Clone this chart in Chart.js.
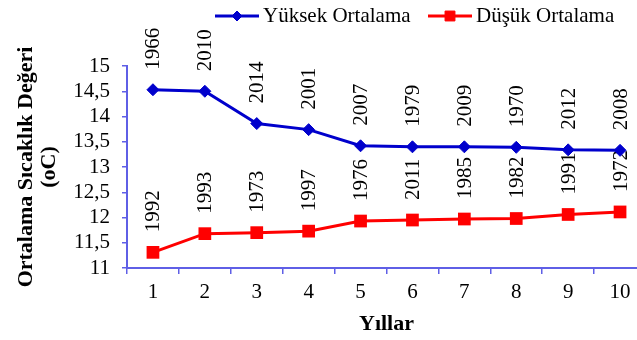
<!DOCTYPE html>
<html>
<head>
<meta charset="utf-8">
<script src="https://cdn.jsdelivr.net/npm/chart.js@4.4.1/dist/chart.umd.min.js"></script>
<style>
  body { margin: 0; overflow: hidden; background: #fff; }
</style>
</head>
<body>
<canvas id="myChart" width="660" height="340"></canvas>
<script>
// rank (1..10) on the x axis
const ranks = ['1', '2', '3', '4', '5', '6', '7', '8', '9', '10'];

// mean temperatures, oC
const highValues = [14.53, 14.50, 13.86, 13.74, 13.42, 13.40, 13.40, 13.39, 13.34, 13.33];
const lowValues = [11.31, 11.68, 11.70, 11.73, 11.93, 11.95, 11.97, 11.98, 12.06, 12.11];

// year written above each point
const highYears = ['1966', '2010', '2014', '2001', '2007', '1979', '2009', '1970', '2012', '2008'];
const lowYears = ['1992', '1993', '1973', '1997', '1976', '2011', '1985', '1982', '1991', '1972'];

const serif = '"Liberation Serif", "Times New Roman", serif';
const axisColor = '#5f5fe6';
const blue = '#0000cc';
const red = '#ff0000';

// rotated year labels over every point, drawn under the lines
const yearLabels = {
	id: 'yearLabels',
	beforeDatasetsDraw(chart) {
		const ctx = chart.ctx;
		const yearSets = [highYears, lowYears];
		ctx.save();
		ctx.font = '21px ' + serif;
		ctx.fillStyle = '#000';
		ctx.textAlign = 'left';
		ctx.textBaseline = 'middle';
		yearSets.forEach((years, i) => {
			chart.getDatasetMeta(i).data.forEach((pt, j) => {
				ctx.save();
				ctx.translate(pt.x + 1, pt.y - 20);
				ctx.rotate(-Math.PI / 2);
				ctx.fillText(years[j], 0, 0);
				ctx.restore();
			});
		});
		ctx.restore();
	}
};

// legend with a line through the marker, like the series themselves
const lineLegend = {
	id: 'lineLegend',
	afterDraw(chart, args, opts) {
		const ctx = chart.ctx;
		ctx.save();
		ctx.font = '21px ' + serif;
		ctx.textBaseline = 'middle';
		ctx.textAlign = 'left';
		chart.data.datasets.forEach((ds, i) => {
			const x = opts.starts[i];
			const y = opts.y;
			ctx.strokeStyle = ds.borderColor;
			ctx.fillStyle = ds.borderColor;
			ctx.lineWidth = 3;
			ctx.beginPath();
			ctx.moveTo(x, y);
			ctx.lineTo(x + 44, y);
			ctx.stroke();
			ctx.lineWidth = 1;
			Chart.helpers.drawPoint(ctx, {
				pointStyle: ds.pointStyle,
				radius: opts.radius[i],
				borderWidth: 1,
				rotation: 0
			}, x + 22, y);
			ctx.fillStyle = '#000';
			ctx.fillText(ds.label, x + 48, y);
		});
		ctx.restore();
	}
};

new Chart(document.getElementById('myChart').getContext('2d'), {
	type: 'line',
	data: {
		labels: ranks,
		datasets: [
			{
				label: 'Yüksek Ortalama',
				data: highValues,
				borderColor: blue,
				backgroundColor: blue,
				pointBackgroundColor: blue,
				pointBorderColor: blue,
				borderWidth: 3,
				pointStyle: 'rectRot',
				pointRadius: 6,
				pointBorderWidth: 1,
				tension: 0
			},
			{
				label: 'Düşük Ortalama',
				data: lowValues,
				borderColor: red,
				backgroundColor: red,
				pointBackgroundColor: red,
				pointBorderColor: red,
				borderWidth: 3,
				pointStyle: 'rect',
				pointRadius: 9,
				pointBorderWidth: 0,
				tension: 0
			}
		]
	},
	options: {
		responsive: false,
		animation: false,
		layout: {
			padding: { top: 66, right: 14, bottom: 0, left: 0 }
		},
		plugins: {
			legend: { display: false },
			tooltip: { enabled: false },
			lineLegend: {
				starts: [215, 428],
				y: 16,
				radius: [5, 7]
			}
		},
		scales: {
			x: {
				offset: true,
				grid: {
					offset: true,
					drawOnChartArea: false,
					tickLength: 6,
					color: axisColor,
					lineWidth: 1.5
				},
				border: { color: axisColor, width: 2 },
				ticks: {
					color: '#000',
					font: { family: serif, size: 21 },
					padding: 6
				},
				title: {
					display: true,
					text: 'Yıllar',
					color: '#000',
					font: { family: serif, size: 22, weight: 'bold' },
					padding: { top: 0, bottom: 2 }
				},
				afterFit(scale) { scale.height = 72; }
			},
			y: {
				min: 11,
				max: 15,
				grid: {
					drawOnChartArea: false,
					tickLength: 5,
					color: axisColor,
					lineWidth: 1.5
				},
				border: { color: axisColor, width: 2 },
				ticks: {
					stepSize: 0.5,
					autoSkip: false,
					color: '#000',
					font: { family: serif, size: 21, lineHeight: 1 },
					padding: 12,
					callback: v => String(v).replace('.', ',')
				},
				title: {
					display: true,
					text: ['Ortalama Sıcaklık Değeri', '(oC)'],
					color: '#000',
					font: { family: serif, size: 22, weight: 'bold', lineHeight: 1.05 },
					padding: { top: 15, bottom: 0 }
				},
				afterFit(scale) { scale.width = 127; }
			}
		}
	},
	plugins: [yearLabels, lineLegend]
});
</script>
</body>
</html>
